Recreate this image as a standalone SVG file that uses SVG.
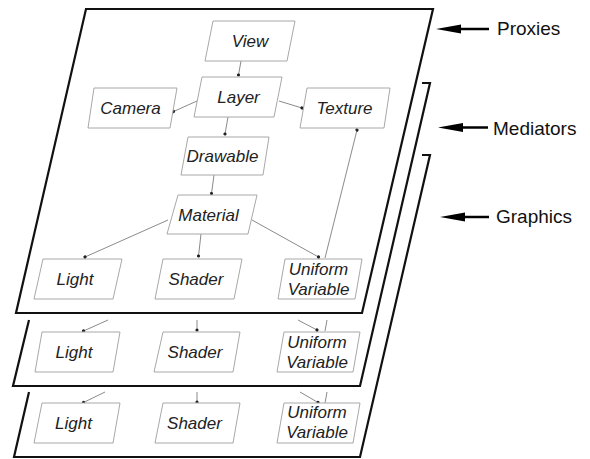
<svg xmlns="http://www.w3.org/2000/svg" width="590" height="459" viewBox="0 0 590 459">
<defs>
<style>
.sheet{fill:#fff;stroke:#111;stroke-width:2.2;stroke-linejoin:miter}
.edge{fill:none;stroke:#111;stroke-width:2.2;stroke-linejoin:miter}
.box{fill:#fff;stroke:#a8a8a8;stroke-width:1}
.lbl{font-family:"Liberation Sans",Arial,sans-serif;font-style:italic;font-size:17px;fill:#222;text-anchor:middle}
.side{font-family:"Liberation Sans",Arial,sans-serif;font-size:19px;fill:#111}
.con{fill:none;stroke:#8a8a8a;stroke-width:1}
.arr{stroke:#000;stroke-width:2.5}
</style>
<marker id="dot" markerUnits="userSpaceOnUse" markerWidth="6" markerHeight="6" refX="3" refY="3" orient="auto">
<circle cx="3" cy="3" r="1.6" fill="#222"/>
</marker>
</defs>
<rect width="590" height="459" fill="#fff"/>

<g id="sheet-graphics">
<polyline class="edge" points="422,155 430,155 360,457 14,457 29,392"/>
</g>
<g id="sheet-mediators">
<polyline class="edge" points="422,83 430,83 360,386 13,386 29,320"/>
</g>
<g id="sheet-proxies">
<polygon class="sheet" points="86,9 433,9 362,313 16,313"/>
</g>

<g id="connectors">
<line class="con" x1="241" y1="61" x2="238.5" y2="75" marker-end="url(#dot)"/>
<line class="con" x1="197" y1="101" x2="173.5" y2="111.5" marker-end="url(#dot)"/>
<line class="con" x1="279" y1="101" x2="302" y2="108" marker-end="url(#dot)"/>
<line class="con" x1="228" y1="117" x2="225" y2="134" marker-end="url(#dot)"/>
<line class="con" x1="214" y1="175" x2="211.5" y2="193.5" marker-end="url(#dot)"/>
<line class="con" x1="168" y1="220" x2="85" y2="257" marker-end="url(#dot)"/>
<line class="con" x1="201" y1="234" x2="198.5" y2="256" marker-end="url(#dot)"/>
<line class="con" x1="252" y1="220" x2="318.5" y2="257" marker-end="url(#dot)"/>
<line class="con" x1="325" y1="258" x2="357" y2="130" marker-end="url(#dot)"/>
<line class="con" x1="108" y1="320" x2="83.5" y2="331" marker-end="url(#dot)"/>
<line class="con" x1="197" y1="320" x2="197" y2="330" marker-end="url(#dot)"/>
<line class="con" x1="298" y1="320" x2="317" y2="330" marker-end="url(#dot)"/>
<line class="con" x1="327" y1="320" x2="325" y2="331"/>
<line class="con" x1="105" y1="392" x2="83.5" y2="402.5" marker-end="url(#dot)"/>
<line class="con" x1="197" y1="392" x2="197" y2="402" marker-end="url(#dot)"/>
<line class="con" x1="300" y1="392" x2="318" y2="402.5" marker-end="url(#dot)"/>
<line class="con" x1="327" y1="392" x2="325" y2="403"/>
</g>

<g id="view"><polygon class="box" points="213,21 295,21 287,61 205,61"/><text class="lbl" x="250" y="47">View</text></g>
<g id="layer"><polygon class="box" points="202,77 282,77 274,117 194,117"/><text class="lbl" x="238.5" y="103">Layer</text></g>
<g id="camera"><polygon class="box" points="94,88 177,88 170,128 88,128"/><text class="lbl" x="130.5" y="114">Camera</text></g>
<g id="texture"><polygon class="box" points="307,88 390,88 384,128 300,128"/><text class="lbl" x="344.5" y="114">Texture</text></g>
<g id="drawable"><polygon class="box" points="188,137 269,137 263,175 181,175"/><text class="lbl" x="222.5" y="162">Drawable</text></g>
<g id="material"><polygon class="box" points="178,195 257,195 248,234 167,234"/><text class="lbl" x="208.5" y="220.5">Material</text></g>

<g id="light-proxy"><polygon class="box" points="43,259 122,259 113,299 34,299"/><text class="lbl" x="75" y="285">Light</text></g>
<g id="shader-proxy"><polygon class="box" points="163,259 242,259 234,299 155,299"/><text class="lbl" x="196" y="285">Shader</text></g>
<g id="uniform-proxy"><polygon class="box" points="285,259 362,259 355,299 278,299"/><text class="lbl" x="318.5" y="275">Uniform<tspan x="318.5" y="295">Variable</tspan></text></g>

<g id="light-mediator"><polygon class="box" points="42,332 120,332 113,372 35,372"/><text class="lbl" x="74" y="358">Light</text></g>
<g id="shader-mediator"><polygon class="box" points="163,332 240,332 233,372 154,372"/><text class="lbl" x="195" y="358">Shader</text></g>
<g id="uniform-mediator"><polygon class="box" points="284,332 360,332 353,372 277,372"/><text class="lbl" x="317" y="347.5">Uniform<tspan x="317" y="367.5">Variable</tspan></text></g>

<g id="light-graphics"><polygon class="box" points="42,403 120,403 113,443 34,443"/><text class="lbl" x="73.5" y="429">Light</text></g>
<g id="shader-graphics"><polygon class="box" points="163,403 240,403 233,443 155,443"/><text class="lbl" x="194.5" y="429">Shader</text></g>
<g id="uniform-graphics"><polygon class="box" points="284,403 360,403 353,443 277,443"/><text class="lbl" x="317" y="418">Uniform<tspan x="317" y="438">Variable</tspan></text></g>

<g id="label-proxies">
<line class="arr" x1="456" y1="29" x2="489" y2="29"/>
<polygon points="436,29 461,24.5 461,33.5" fill="#000"/>
<text class="side" x="497" y="35">Proxies</text>
</g>
<g id="label-mediators">
<line class="arr" x1="458" y1="127.5" x2="488" y2="127.5"/>
<polygon points="438,127.5 463,123 463,132" fill="#000"/>
<text class="side" x="493" y="135">Mediators</text>
</g>
<g id="label-graphics">
<line class="arr" x1="460" y1="217" x2="489" y2="217"/>
<polygon points="440,217 465,212.5 465,221.5" fill="#000"/>
<text class="side" x="496" y="223">Graphics</text>
</g>
</svg>
